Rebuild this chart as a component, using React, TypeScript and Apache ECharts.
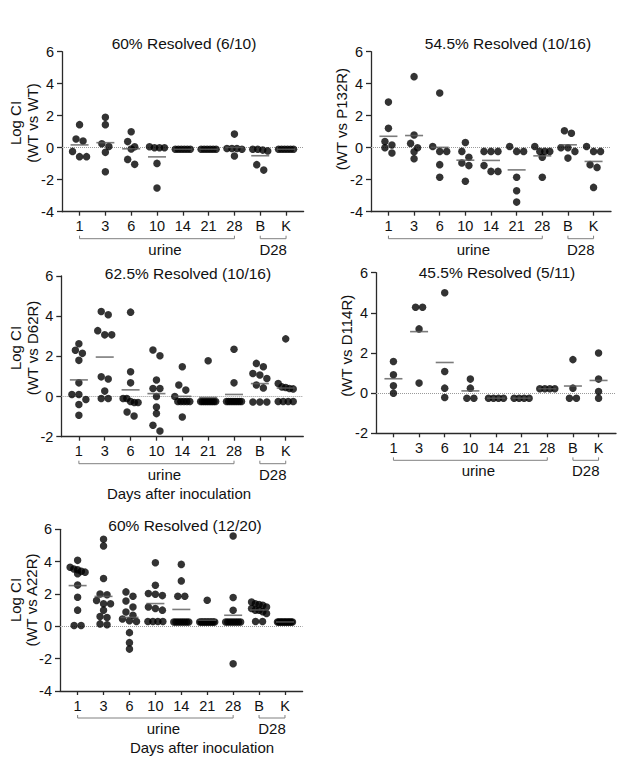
import React, { useEffect, useRef } from "react";
import * as echarts from "echarts";

// ---- categories / labels ----
const CATS = ["1", "3", "6", "10", "14", "21", "28", "B", "K"];
const TITLES = [
  "60% Resolved (6/10)",
  "54.5% Resolved (10/16)",
  "62.5% Resolved (10/16)",
  "45.5% Resolved (5/11)",
  "60% Resolved (12/20)",
];
const Y_LABELS = [
  "Log CI\n(WT vs WT)",
  "(WT vs P132R)",
  "Log CI\n(WT vs D62R)",
  "(WT vs D114R)",
  "Log CI\n(WT vs A22R)",
];
const Y_RANGES = [
  [-4, 6],
  [-4, 6],
  [-2, 6],
  [-2, 6],
  [-4, 6],
];
const URINE_LABEL = "urine";
const D28_LABEL = "D28";
const X_TITLE = "Days after inoculation";

// ---- values (Log CI), one list per category: 1,3,6,10,14,21,28,B,K ----
const wtVsWt = [
  [1.44, 0.54, 0.42, -0.23, -0.56, -0.56],
  [1.9, 1.44, 0.25, 0.08, -0.29, -1.5],
  [1.0, 0.38, 0.06, -0.08, -0.73, -1.04],
  [0.06, 0.0, 0.0, 0.0, -0.98, -2.52],
  [-0.1, -0.1, -0.1, -0.1, -0.1, -0.1],
  [-0.1, -0.1, -0.1, -0.1, -0.1, -0.1],
  [0.85, -0.05, -0.05, -0.05, -0.1, -0.52],
  [-0.1, -0.1, -0.15, -0.2, -1.06, -1.4],
  [-0.1, -0.1, -0.1, -0.1, -0.1, -0.1],
];
const wtVsP132R = [
  [2.85, 1.21, 0.38, 0.17, 0.0, -0.33],
  [4.44, 0.79, 0.27, 0.0, -0.25, -0.69],
  [3.42, 0.08, -0.23, -0.23, -1.06, -1.85],
  [0.33, -0.23, -0.6, -0.96, -1.12, -2.1],
  [-0.23, -0.23, -0.23, -1.12, -1.48, -1.48],
  [0.08, -0.23, -0.23, -1.85, -2.69, -3.4],
  [0.08, -0.23, -0.23, -0.23, -0.6, -1.85],
  [1.06, 0.9, 0.0, 0.0, -0.23, -0.65],
  [0.08, -0.23, -0.23, -1.06, -1.23, -2.48],
];
const wtVsD62R = [
  [2.63, 2.3, 2.15, 1.8, 0.68, 0.1, 0.1, -0.15, -0.4, -0.93],
  [4.23, 4.07, 3.28, 3.07, 3.07, 0.98, 0.87, 0.27, -0.1, -0.1],
  [4.2, 1.23, 0.68, -0.1, -0.1, -0.25, -0.3, -0.3, -0.77, -0.97],
  [2.32, 2.03, 0.82, 0.4, 0.4, 0.0, -0.52, -0.85, -1.43, -1.72],
  [1.48, 0.57, 0.32, 0.0, -0.25, -0.25, -0.25, -0.25, -0.25, -1.02],
  [1.78, -0.25, -0.25, -0.25, -0.25, -0.25, -0.25, -0.25, -0.25, -0.25],
  [2.35, 0.68, -0.25, -0.25, -0.25, -0.25, -0.25, -0.25, -0.25, -0.25],
  [1.65, 1.48, 1.15, 1.07, 0.9, 0.57, 0.43, -0.27, -0.27, -0.27],
  [2.87, 0.65, 0.48, 0.45, 0.4, 0.38, -0.25, -0.25, -0.25, -0.25],
];
const wtVsD114R = [
  [1.58, 0.92, 0.37, 0.0],
  [4.28, 4.28, 3.2, 0.5],
  [5.0, 1.08, 0.25, -0.22],
  [0.7, 0.25, -0.25, -0.25],
  [-0.25, -0.25, -0.25, -0.25],
  [-0.25, -0.25, -0.25, -0.25],
  [0.22, 0.22, 0.22, 0.22],
  [1.67, 0.25, -0.25, -0.25],
  [2.0, 0.7, 0.08, -0.25],
];
const wtVsA22R = [
  [4.08, 3.65, 3.55, 3.5, 3.4, 3.35, 3.25, 2.55, 1.8, 1.0, 0.05, 0.05],
  [5.38, 4.97, 2.96, 2.0, 1.95, 1.6, 1.4, 1.4, 1.0, 0.6, 0.55, 0.15, 0.1],
  [2.13, 1.86, 1.57, 1.2, 0.89, 0.68, 0.45, 0.35, 0.3, -0.39, -1.01, -1.41],
  [3.93, 2.54, 2.03, 1.98, 1.9, 1.2, 1.1, 1.0, 0.3, 0.3, 0.3, 0.3],
  [3.83, 2.81, 1.86, 1.86, 0.27, 0.27, 0.27, 0.27, 0.27, 0.27, 0.27, 0.27],
  [1.61, 0.27, 0.27, 0.27, 0.27, 0.27, 0.27, 0.27, 0.27, 0.27, 0.27, 0.27],
  [5.59, 1.78, 0.99, 0.27, 0.27, 0.27, 0.27, 0.27, 0.27, 0.27, 0.27, -2.32],
  [1.5, 1.4, 1.35, 1.3, 1.2, 1.1, 1.0, 1.0, 0.9, 0.8, 0.3, 0.3],
  [0.27, 0.27, 0.27, 0.27, 0.27, 0.27, 0.27, 0.27, 0.27, 0.27, 0.27, 0.27],
];
const PANEL_DATA = [wtVsWt, wtVsP132R, wtVsD62R, wtVsD114R, wtVsA22R];

// ---- layout (pixels) ----
const X_MIN = -0.68;
const X_MAX = 8.68;
const LAYOUT = [
  { left: 62, top: 51.7, width: 241.6, height: 160, title: [184, 43.3], ylab: [24, 123], xTitle: null as null | number[] },
  { left: 371, top: 51.7, width: 240, height: 160, title: [508, 43.3], ylab: [341.7, 119], xTitle: null },
  { left: 61.3, top: 276, width: 242, height: 160.7, title: [188, 273.3], ylab: [24, 348], xTitle: [179, 493.3] },
  { left: 376, top: 272.7, width: 240, height: 160.6, title: [497, 272.7], ylab: [346.7, 345.7], xTitle: null },
  { left: 60, top: 529.3, width: 242.6, height: 161.7, title: [185, 525], ylab: [23.5, 600], xTitle: [202, 747.3] },
];

const FONT = "'Liberation Sans', Arial, Helvetica, sans-serif";
const AXIS_COLOR = "#2a2a2a";
const TEXT_COLOR = "#111";

// GraphPad-like column scatter: points with near-equal values spread in a row
function swarmOffsets(vals: number[], pxPerY: number): number[] {
  const idx = vals.map((_, i) => i).sort((a, b) => vals[b] - vals[a]);
  const offs = new Array(vals.length).fill(0);
  let row: number[] = [];
  const flush = () => {
    const n = row.length;
    const sp = n > 1 ? Math.min(7, 15 / (n - 1)) : 0;
    row.forEach((id, k) => {
      offs[id] = (k - (n - 1) / 2) * sp;
    });
    row = [];
  };
  for (const id of idx) {
    if (row.length && (vals[row[0]] - vals[id]) * pxPerY >= 6) flush();
    row.push(id);
  }
  flush();
  return offs;
}

const mean = (a: number[]) => a.reduce((s, v) => s + v, 0) / a.length;

export default function App() {
  const ref = useRef<HTMLDivElement>(null);

  useEffect(() => {
    document.body.style.margin = "0";
    const chart = echarts.init(ref.current!, null, { renderer: "svg" });
    const tickVals = CATS.map((_, i) => i);

    const grid: any[] = [];
    const xAxis: any[] = [];
    const yAxis: any[] = [];
    const series: any[] = [];

    PANEL_DATA.forEach((data, k) => {
      const L = LAYOUT[k];
      const [ymin, ymax] = Y_RANGES[k];
      const pxPerCat = L.width / (X_MAX - X_MIN);
      const pxPerY = L.height / (ymax - ymin);
      grid.push({ left: L.left, top: L.top, width: L.width, height: L.height, containLabel: false });
      xAxis.push({
        type: "value",
        gridIndex: k,
        min: X_MIN,
        max: X_MAX,
        axisLine: { show: true, onZero: false, lineStyle: { color: AXIS_COLOR, width: 1.3 } },
        axisTick: { show: true, customValues: tickVals, length: 4, lineStyle: { color: AXIS_COLOR, width: 1.3 } },
        axisLabel: {
          show: true,
          customValues: tickVals,
          formatter: (v: number) => CATS[Math.round(v)] ?? "",
          fontSize: 14.5,
          fontFamily: FONT,
          color: TEXT_COLOR,
          margin: 7,
        },
        splitLine: { show: false },
      });
      yAxis.push({
        type: "value",
        gridIndex: k,
        min: ymin,
        max: ymax,
        interval: 2,
        axisLine: { show: true, onZero: false, lineStyle: { color: AXIS_COLOR, width: 1.3 } },
        axisTick: { show: true, length: 5, lineStyle: { color: AXIS_COLOR, width: 1.3 } },
        axisLabel: { fontSize: 14.5, fontFamily: FONT, color: TEXT_COLOR, margin: 8 },
        splitLine: { show: false },
      });
      const pts: number[][] = [];
      data.forEach((vals, ci) => {
        const offs = swarmOffsets(vals, pxPerY);
        vals.forEach((v, j) => pts.push([ci + offs[j] / pxPerCat, v]));
      });
      series.push({
        type: "scatter",
        xAxisIndex: k,
        yAxisIndex: k,
        data: pts,
        symbol: "circle",
        symbolSize: 7.5,
        itemStyle: { color: "#000" },
        silent: true,
        z: 3,
        markLine: {
          silent: true,
          symbol: ["none", "none"],
          label: { show: false },
          lineStyle: { type: "dotted", color: "#9a9a9a", width: 1 },
          data: [{ yAxis: 0 }],
          z: 1,
        },
      });
      series.push({
        type: "scatter",
        xAxisIndex: k,
        yAxisIndex: k,
        data: data.map((vals, ci) => [ci, mean(vals)]),
        symbol: "rect",
        symbolSize: [18, 1.6],
        itemStyle: { color: "#5a5a5a" },
        silent: true,
        z: 4,
      });
    });

    chart.setOption({
      animation: false,
      backgroundColor: "#fff",
      grid,
      xAxis,
      yAxis,
      series,
    });

    const graphic: any[] = [];
    PANEL_DATA.forEach((_, k) => {
      const L = LAYOUT[k];
      const [ymin] = Y_RANGES[k];
      const px = (x: number) => chart.convertToPixel({ gridIndex: k } as any, [x, ymin]) as number[];
      const yb = px(0)[1] + 27;
      const bracket = (a: number, b: number) => {
        const xa = px(a)[0];
        const xb = px(b)[0];
        graphic.push({
          type: "polyline",
          silent: true,
          shape: { points: [[xa, yb - 3], [xa, yb], [xb, yb], [xb, yb - 3]] },
          style: { stroke: "#808080", lineWidth: 1, fill: null },
        });
      };
      bracket(0, 6);
      bracket(7, 8);
      graphic.push({
        type: "text",
        silent: true,
        x: (px(0)[0] + px(6)[0]) / 2 + 8,
        y: yb + 10.5,
        style: { text: URINE_LABEL, fontSize: 15, fontFamily: FONT, fill: TEXT_COLOR, align: "center", verticalAlign: "middle" },
      });
      graphic.push({
        type: "text",
        silent: true,
        x: (px(7)[0] + px(8)[0]) / 2,
        y: yb + 10.5,
        style: { text: D28_LABEL, fontSize: 15, fontFamily: FONT, fill: TEXT_COLOR, align: "center", verticalAlign: "middle" },
      });
      graphic.push({
        type: "text",
        silent: true,
        x: L.title[0],
        y: L.title[1],
        style: { text: TITLES[k], fontSize: 15.5, fontFamily: FONT, fill: TEXT_COLOR, align: "center", verticalAlign: "middle" },
      });
      graphic.push({
        type: "text",
        silent: true,
        x: L.ylab[0],
        y: L.ylab[1],
        rotation: Math.PI / 2,
        style: {
          text: Y_LABELS[k],
          fontSize: 15,
          lineHeight: 16.5,
          fontFamily: FONT,
          fill: TEXT_COLOR,
          align: "center",
          verticalAlign: "middle",
        },
      });
      if (L.xTitle) {
        graphic.push({
          type: "text",
          silent: true,
          x: L.xTitle[0],
          y: L.xTitle[1],
          style: { text: X_TITLE, fontSize: 15, fontFamily: FONT, fill: TEXT_COLOR, align: "center", verticalAlign: "middle" },
        });
      }
    });
    chart.setOption({ graphic });

    return () => chart.dispose();
  }, []);

  return (
    <div
      ref={ref}
      style={{ position: "absolute", left: 0, top: 0, width: 617, height: 757, background: "#fff" }}
    />
  );
}
